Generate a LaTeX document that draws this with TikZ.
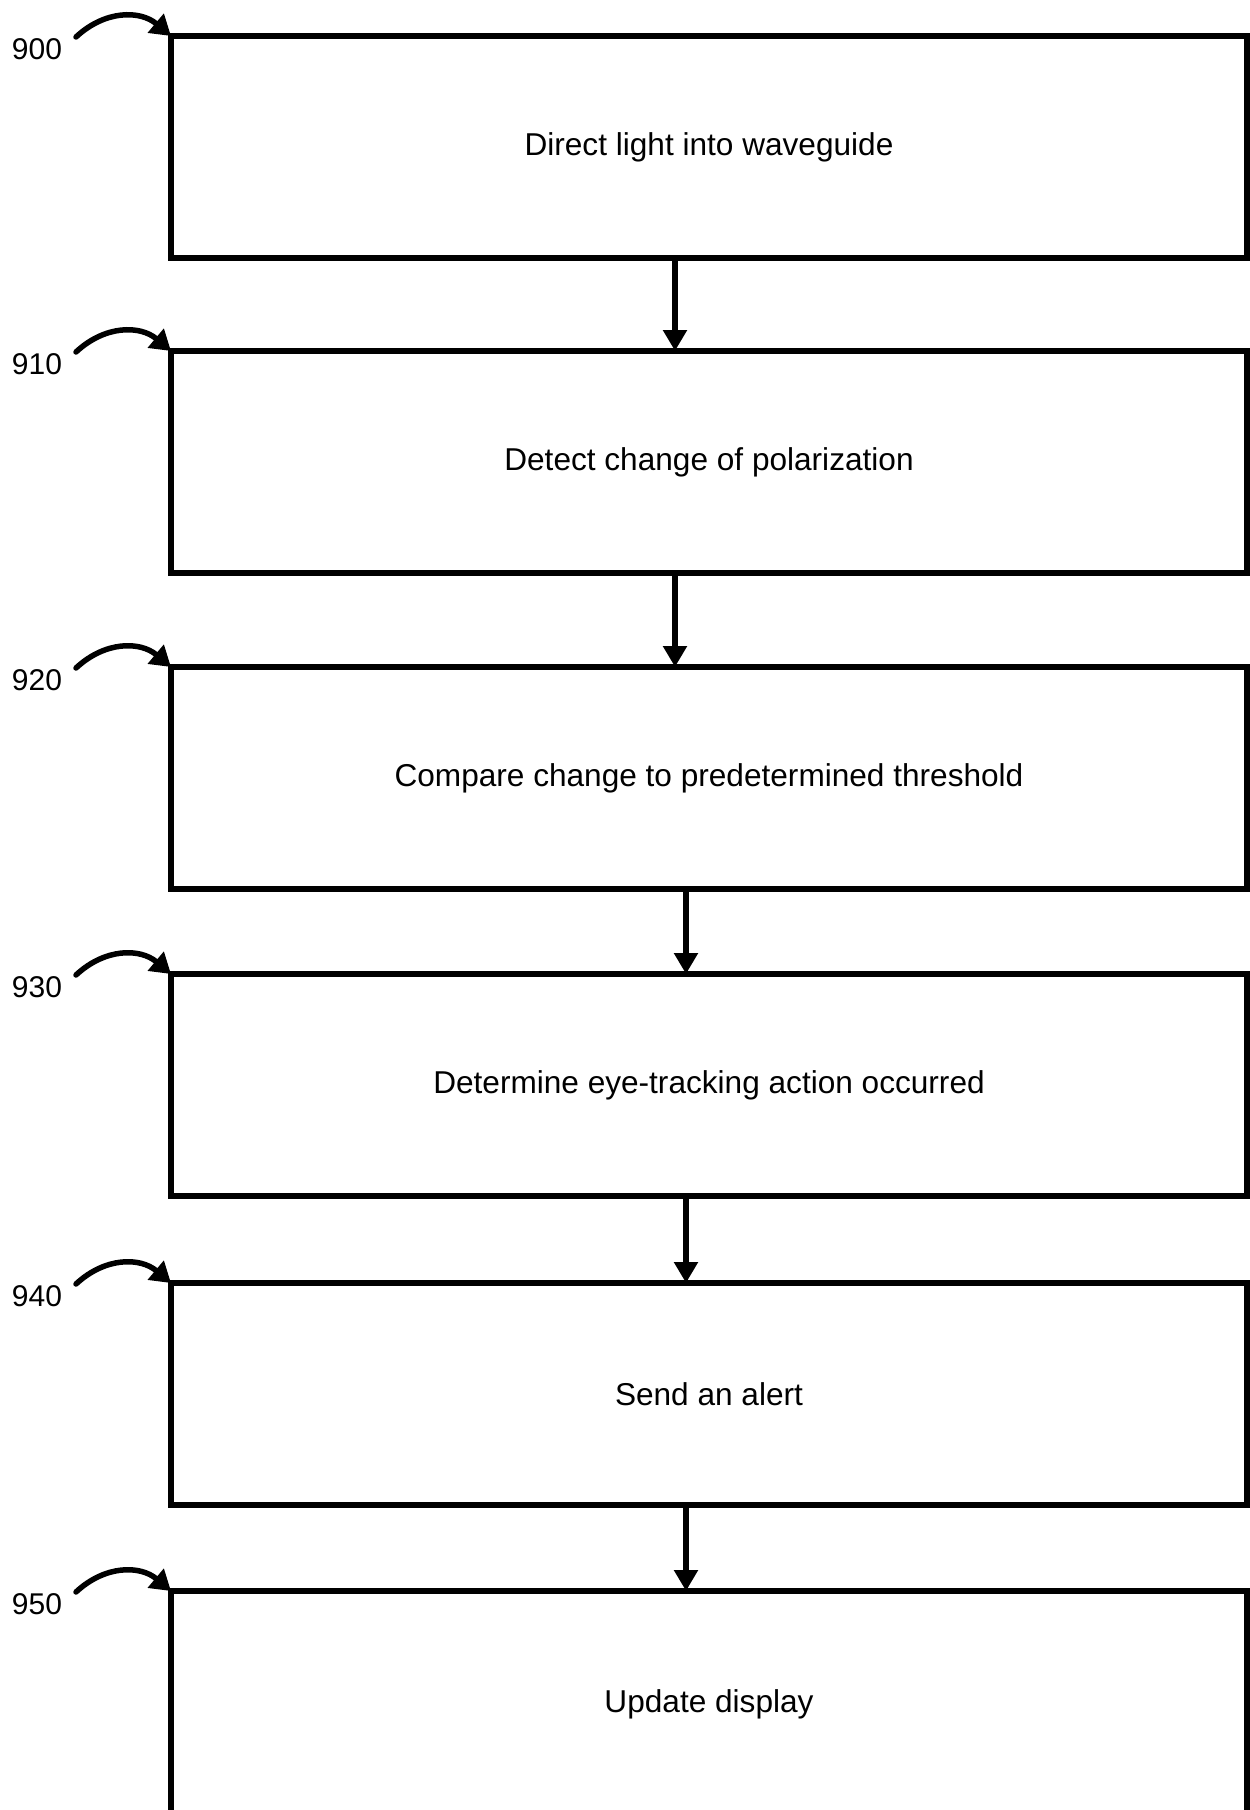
\documentclass[tikz,border=0pt]{standalone}
\usepackage{fontspec}
\setmainfont{Liberation Sans}
\usetikzlibrary{arrows.meta}
\begin{document}
\begin{tikzpicture}[x=1pt,y=-1pt,
  stepbox/.style={draw=black, line width=6pt, fill=white, outer sep=0pt, inner sep=0pt,
    minimum width=1076pt, minimum height=222pt, anchor=north west,
    font=\fontsize{31.6}{38}\selectfont},
  reflabel/.style={font=\fontsize{30}{36}\selectfont, inner sep=0pt},
  flow/.style={line width=5.5pt, -{Triangle[length=21pt,width=23pt]}},
  hook/.style={line width=5.5pt, line cap=round, -{Triangle[length=20pt,width=24pt]}}]
\useasboundingbox (0,0) rectangle (1250,1810);
\fill[white] (0,0) rectangle (1250,1810);

\node[stepbox] (b1) at (171,36) {Direct light into waveguide};
\node[stepbox] (b2) at (171,351) {Detect change of polarization};
\node[stepbox] (b3) at (171,667) {Compare change to predetermined threshold};
\node[stepbox] (b4) at (171,974) {Determine eye-tracking action occurred};
\node[stepbox] (b5) at (171,1283) {Send an alert};
\node[stepbox, minimum height=225pt] (b6) at (171,1591) {};
\node[font=\fontsize{31.6}{38}\selectfont] (t6) at (709,1704) {Update display};

\coordinate (ca) at (675,0);
\coordinate (cb) at (686,0);
\draw[flow] (b1.south -| ca) -- (b2.north -| ca);
\draw[flow] (b2.south -| ca) -- (b3.north -| ca);
\draw[flow] (b3.south -| cb) -- (b4.north -| cb);
\draw[flow] (b4.south -| cb) -- (b5.north -| cb);
\draw[flow] (b5.south -| cb) -- (b6.north -| cb);

\foreach \n/\t/\b in {900/0/b1,910/315/b2,920/631/b3,930/938/b4,940/1247/b5,950/1555/b6}{
  \node[reflabel] (l\n) at (37,\t+49) {\n};
  \coordinate (s\n) at (76,\t+37);
  \draw[hook] (s\n) .. controls (105,\t+10) and (140,\t+10) .. (\b.north west);
}
\end{tikzpicture}
\end{document}
